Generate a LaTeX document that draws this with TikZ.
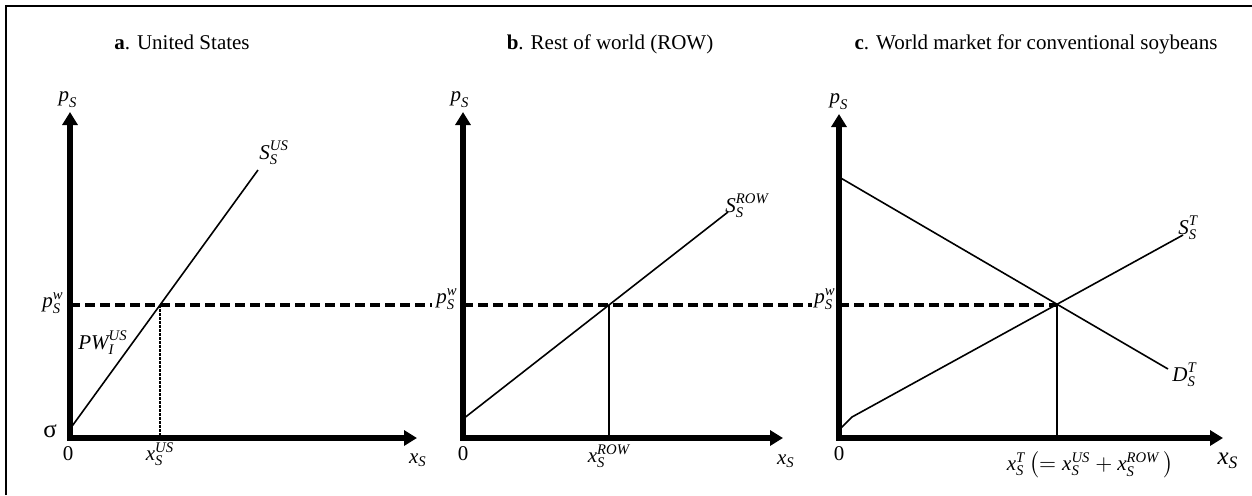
\documentclass[tikz,border=0pt]{standalone}
\usepackage{amsmath}
\usepackage{fontspec}
\setmainfont{Liberation Serif}
\usetikzlibrary{arrows.meta}
\newcommand{\vi}[1]{\textit{#1}}
\begin{document}
\begin{tikzpicture}[x=0.5pt,y=-0.5pt,
  axis/.style={line width=3pt, line join=miter,
    {Triangle[length=6.5pt,width=7.5pt]}-{Triangle[length=6.5pt,width=7.5pt]}},
  curve/.style={line width=0.8pt},
  pw/.style={line width=2pt, dash pattern=on 5pt off 2.5pt},
  drop/.style={line width=0.6pt},
  dropdot/.style={line width=1.3pt, dash pattern=on 1.6pt off 0.4pt},
  lbl/.style={inner sep=0pt, font=\fontsize{10.5}{12}\selectfont},
  big/.style={inner sep=0pt, font=\fontsize{12.5}{14}\selectfont},
  frame/.style={line width=1pt}]
\useasboundingbox (0,0) rectangle (1252,495);
% frame
\coordinate (F0) at (6,495);
\coordinate (F1) at (6,6);
\coordinate (F2) at (1252,6);
\draw[frame] (F0) -- (F1) -- (F2);

% titles
\node[lbl, anchor=base] (ta) at (182,49) {\textbf{a}. United States};
\node[lbl, anchor=base] (tb) at (610,49) {\textbf{b}. Rest of world (ROW)};
\node[lbl, anchor=base] (tc) at (1036,49) {\textbf{c}. World market for conventional soybeans};

% ---------- panel a ----------
\coordinate (Ya) at (70,112);
\coordinate (Oa) at (70,438);
\coordinate (Xa) at (417,438);
\coordinate (Ea) at (160,305);
\coordinate (Fa) at (160,438);
\coordinate (Sa0) at (70,429);
\coordinate (Sa1) at (258,170);
\coordinate (Pa0) at (70,305);
\coordinate (Pa1) at (432,305);
\draw[pw] (Pa0) -- (Pa1);
\draw[dropdot] (Ea) -- (Fa);
\draw[curve] (Sa0) -- (Sa1);
\draw[axis] (Ya) -- (Oa) -- (Xa);
\node[lbl, anchor=south] (pSa) at (68,108) {$\vi{p}_{\vi{S}}$};
\node[lbl, anchor=base west] (SUS) at (259,159) {$\vi{S}_{\vi{S}}^{\vi{US}}$};
\node[lbl, anchor=east] (pwa) at (64,303) {$\vi{p}_{\vi{S}}^{\vi{w}}$};
\node[lbl, anchor=base west] (PW) at (78,349) {$\vi{PW}_{\vi{I}}^{\vi{US}}$};
\node[big] (sig) at (50,431) {σ};
\node[lbl] (za) at (68,454) {0};
\node[lbl] (xUS) at (160,454) {$\vi{x}_{\vi{S}}^{\vi{US}}$};
\node[lbl] (xa) at (418,460) {$\vi{x}_{\vi{S}}$};

% ---------- panel b ----------
\coordinate (Yb) at (463,112);
\coordinate (Ob) at (463,438);
\coordinate (Xb) at (783,438);
\coordinate (Eb) at (609,305);
\coordinate (Fb) at (609,438);
\coordinate (Sb0) at (463,419);
\coordinate (Sb1) at (728,212);
\coordinate (Pb0) at (463,305);
\coordinate (Pb1) at (812,305);
\draw[pw] (Pb0) -- (Pb1);
\draw[drop] (Eb) -- (Fb);
\draw[curve] (Sb0) -- (Sb1);
\draw[axis] (Yb) -- (Ob) -- (Xb);
\node[lbl, anchor=south] (pSb) at (460,108) {$\vi{p}_{\vi{S}}$};
\node[lbl, anchor=base west] (SROW) at (725,212) {$\vi{S}_{\vi{S}}^{\vi{ROW}}$};
\node[lbl, anchor=east] (pwb) at (458,299) {$\vi{p}_{\vi{S}}^{\vi{w}}$};
\node[lbl] (zb) at (463,454) {0};
\node[lbl] (xROW) at (609,456) {$\vi{x}_{\vi{S}}^{\vi{ROW}}$};
\node[lbl] (xb) at (786,461) {$\vi{x}_{\vi{S}}$};

% ---------- panel c ----------
\coordinate (Yc) at (839,114);
\coordinate (Oc) at (839,438);
\coordinate (Xc) at (1223,438);
\coordinate (Ec) at (1057,305);
\coordinate (Fc) at (1057,438);
\coordinate (D0) at (839,177);
\coordinate (D1) at (1168,369);
\coordinate (Sc0) at (839,430);
\coordinate (K) at (852,417);
\coordinate (Sc1) at (1183,235);
\coordinate (Pc0) at (839,305);
\draw[pw] (Pc0) -- (Ec);
\draw[drop] (Ec) -- (Fc);
\draw[curve] (D0) -- (D1);
\draw[curve] (Sc0) -- (K) -- (Sc1);
\draw[axis] (Yc) -- (Oc) -- (Xc);
\node[lbl, anchor=south] (pSc) at (839,110) {$\vi{p}_{\vi{S}}$};
\node[lbl, anchor=base west] (ST) at (1178,234) {$\vi{S}_{\vi{S}}^{\vi{T}}$};
\node[lbl, anchor=base west] (DT) at (1172,381) {$\vi{D}_{\vi{S}}^{\vi{T}}$};
\node[lbl, anchor=east] (pwc) at (836,299) {$\vi{p}_{\vi{S}}^{\vi{w}}$};
\node[lbl] (zc) at (839,454) {0};
\node[lbl] (xT) at (1090,465) {$\vi{x}_{\vi{S}}^{\vi{T}}\left(=\vi{x}_{\vi{S}}^{\vi{US}}+\vi{x}_{\vi{S}}^{\vi{ROW}}\,\right)$};
\node[big] (xc) at (1228,461) {$\vi{x}_{\vi{S}}$};
\end{tikzpicture}
\end{document}
